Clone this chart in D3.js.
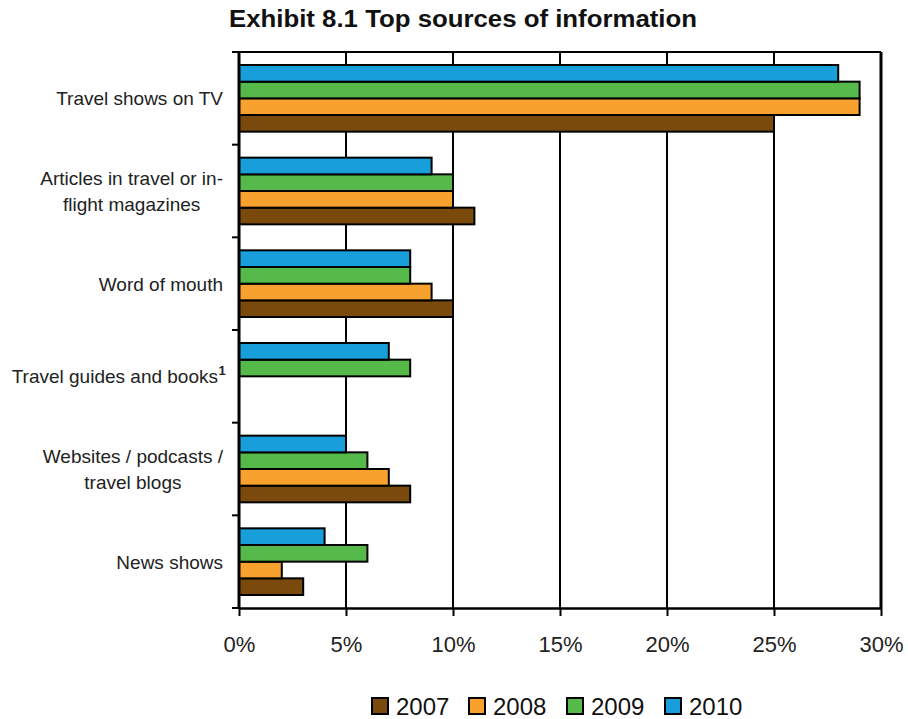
<!DOCTYPE html>
<html><head><meta charset="utf-8">
<script src="https://cdn.jsdelivr.net/npm/d3@7/dist/d3.min.js"></script>
<style>body{margin:0;background:#fff;} svg{display:block;font-family:"Liberation Sans",Arial,sans-serif;}</style>
</head><body><svg id="c" width="908" height="719"></svg>
<script>
const categories = ["Travel shows on TV","Articles in travel or in-flight magazines","Word of mouth","Travel guides and books","Websites / podcasts / travel blogs","News shows"];
const catLines = [["Travel shows on TV"],["Articles in travel or in-","flight magazines"],["Word of mouth"],["Travel guides and books"],["Websites / podcasts /","travel blogs"],["News shows"]];
const series = ["2007","2008","2009","2010"];
const v2007 = [25, 11, 10, null, 8, 3];
const v2008 = [29, 10, 9, null, 7, 2];
const v2009 = [29, 10, 8, 8, 6, 6];
const v2010 = [28, 9, 8, 7, 5, 4];
const colors = ["#7a4a0c","#f9a12e","#55ba4a","#189fdb"];
const xTicks = [0,5,10,15,20,25,30];
const values = [v2007, v2008, v2009, v2010];

const svg = d3.select("#c");
const L = 239, R = 881, T = 52, B = 608;
const x = d3.scaleLinear().domain([0,30]).range([L,R]);
const y = d3.scaleBand().domain(categories).range([T,B]);
const inner = d3.scaleBand().domain(["2010","2009","2008","2007"]).range([0,y.bandwidth()]).paddingOuter(0.78).paddingInner(0);

svg.append("text").attr("x",463).attr("y",27).attr("text-anchor","middle")
  .attr("font-size",23).attr("font-weight","bold").attr("fill","#111")
  .attr("textLength",468).attr("lengthAdjust","spacingAndGlyphs")
  .text("Exhibit 8.1 Top sources of information");

// gridlines
svg.append("g").selectAll("line").data(xTicks.slice(1)).join("line")
  .attr("x1",d=>x(d)).attr("x2",d=>x(d)).attr("y1",T).attr("y2",B)
  .attr("stroke","#000").attr("stroke-width",d=>d===30?3:2);
svg.append("line").attr("x1",L).attr("x2",R).attr("y1",T).attr("y2",T).attr("stroke","#000").attr("stroke-width",2);

// bars
series.forEach((s,i)=>{
  svg.append("g").selectAll("rect").data(categories.map((c,j)=>({c,v:values[i][j]})).filter(d=>d.v!=null)).join("rect")
    .attr("x",L).attr("y",d=>y(d.c)+inner(s)).attr("width",d=>x(d.v)-L).attr("height",inner.bandwidth())
    .attr("fill",colors[i]).attr("stroke","#000").attr("stroke-width",2);
});

// x axis
const xa = svg.append("g").attr("transform",`translate(0,${B})`)
  .call(d3.axisBottom(x).tickValues(xTicks).tickFormat(d=>d+"%").tickSize(8).tickPadding(0).tickSizeOuter(0));
xa.select(".domain").attr("stroke","#000").attr("stroke-width",2.5);
xa.selectAll(".tick line").attr("stroke","#000").attr("stroke-width",2);
xa.selectAll(".tick text").attr("font-size",22).attr("fill","#222").attr("dy",null).attr("y",44)
  .attr("font-family","'Liberation Sans',Arial,sans-serif");

// y axis with ticks at category boundaries
svg.append("line").attr("x1",L).attr("x2",L).attr("y1",T).attr("y2",B).attr("stroke","#000").attr("stroke-width",3);
const bounds = categories.map(c=>y(c)).concat([B]);
svg.append("g").selectAll("line").data(bounds).join("line")
  .attr("x1",L-7).attr("x2",L).attr("y1",d=>d).attr("y2",d=>d).attr("stroke","#000").attr("stroke-width",2);

// category labels (lines centered, block right-aligned)
const lab = svg.append("g");
categories.forEach((c,j)=>{
  const lines = catLines[j];
  const cy = y(c)+y.bandwidth()/2;
  const rightEdge = j===3 ? 218 : 223;
  const t = lab.append("text").attr("text-anchor","middle").attr("font-size",19).attr("fill","#222");
  const spans = lines.map((ln,k)=> t.append("tspan").attr("y",cy + (k-(lines.length-1)/2)*26 + 7).text(ln));
  const w = d3.max(spans, s=>s.node().getComputedTextLength());
  spans.forEach(s=>s.attr("x", rightEdge - w/2));
  if (j===3) {
    lab.append("text").attr("x",222).attr("y",cy-1).attr("font-size",13).attr("font-weight","bold")
      .attr("fill","#222").attr("text-anchor","middle").text("1");
  }
});

// legend
const legX = [372, 469, 567, 665];
const lg = svg.append("g");
series.forEach((s,i)=>{
  const g = lg.append("g").attr("transform",`translate(${legX[i]},706)`);
  g.append("rect").attr("x",0).attr("y",-8).attr("width",16).attr("height",16).attr("fill",colors[i]).attr("stroke","#000").attr("stroke-width",2);
  g.append("text").attr("x",24).attr("y",9).attr("font-size",24).attr("fill","#111").text(s);
});
</script></body></html>
